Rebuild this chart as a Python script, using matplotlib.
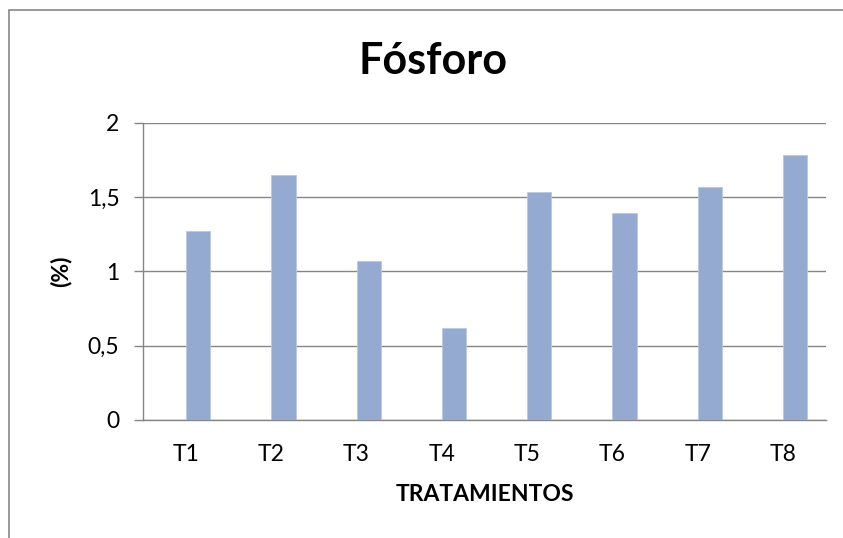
import matplotlib
matplotlib.use('Agg')
import matplotlib.pyplot as plt
import matplotlib.patches as mpatches
import numpy as np

# data
categories = ['T1', 'T2', 'T3', 'T4', 'T5', 'T6', 'T7', 'T8']
fosforo = [1.27, 1.645, 1.07, 0.62, 1.535, 1.39, 1.565, 1.785]
y_ticks = [0, 0.5, 1, 1.5, 2]
y_tick_labels = ['0', '0,5', '1', '1,5', '2']

grey = '#868686'
bar_color = '#95AAD0'

plt.rcParams['font.family'] = ['Lato', 'DejaVu Sans']

fig = plt.figure(figsize=(8.43, 5.38), dpi=100)
ax = fig.add_axes([143.3 / 843, 1 - 420 / 538, (825.7 - 143.3) / 843, (420 - 122.7) / 538])

x = np.arange(len(categories))
# bars start at the category position, like the original
ax.bar(x, fosforo, width=0.285, align='edge', color=bar_color,
       edgecolor='#B9C7E2', linewidth=0.6, zorder=3)

ax.set_xlim(-0.5, len(categories) - 0.5)
ax.set_ylim(0, 2)
ax.set_xticks(x)
ax.set_xticklabels(categories, fontsize=16.5)
ax.set_yticks(y_ticks)
ax.set_yticklabels(y_tick_labels, fontsize=16.5)
ax.tick_params(axis='x', length=0, pad=17)
ax.tick_params(axis='y', direction='out', length=6.2, width=1.0, color=grey, pad=11)

ax.yaxis.grid(True, color=grey, linewidth=1.0, zorder=0)
ax.set_axisbelow(True)
for side in ['top', 'right']:
    ax.spines[side].set_visible(False)
ax.spines['left'].set_color(grey)
ax.spines['bottom'].set_color(grey)
ax.spines['left'].set_linewidth(1.0)
ax.spines['bottom'].set_linewidth(1.0)

ax.set_xlabel('TRATAMIENTOS', fontsize=16.5, fontweight='bold', labelpad=14)
ax.set_ylabel('(%)', fontsize=16.5, fontweight='bold', labelpad=12)

fig.text(433 / 843, 1 - 61 / 538, 'Fósforo', ha='center', va='center',
         fontsize=31, fontweight='bold')

# chart area frame (cut off on the right and bottom)
frame = mpatches.Rectangle((9 / 843, -0.05), 1.0, 1 - 10 / 538 + 0.05,
                           transform=fig.transFigure, fill=False,
                           edgecolor=grey, linewidth=1.2)
fig.patches.append(frame)

fig.savefig('out.png', dpi=100, facecolor='white')
